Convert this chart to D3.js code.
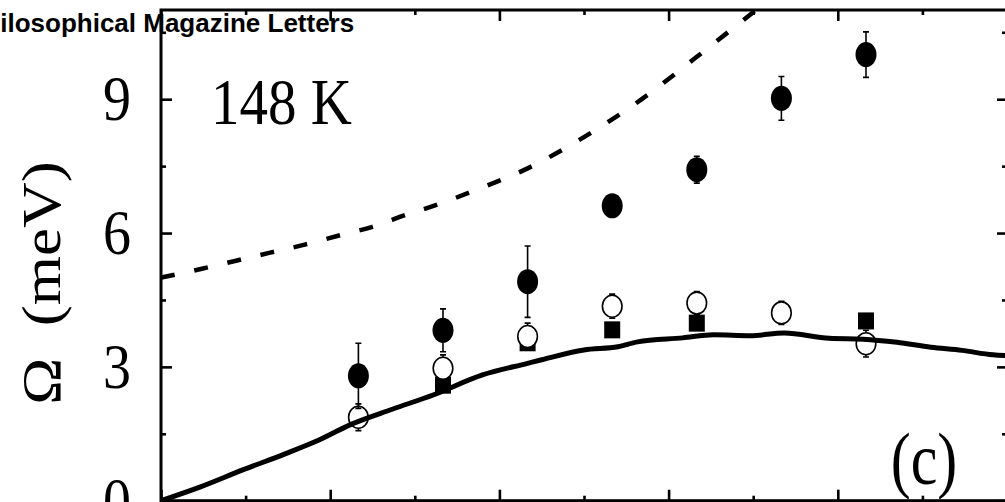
<!DOCTYPE html>
<html>
<head>
<meta charset="utf-8">
<script src="https://cdn.jsdelivr.net/npm/d3@7/dist/d3.min.js"></script>
<style>
  html, body { margin: 0; padding: 0; background: #fff; overflow: hidden; }
  svg { display: block; }
</style>
</head>
<body>
<svg id="chart" width="1005" height="502"></svg>
<script>
// ---- data ----
const xMeasured = [7, 10, 13, 16, 19, 22, 25];
const omegaUpper = [2.80, 3.82, 4.91, 6.61, 7.42, 9.02, 10.0];
const errUpper = [0.73, 0.48, 0.80, 0.15, 0.30, 0.49, 0.51];
const omegaLower = [1.87, 2.97, 3.68, 4.36, 4.43, 4.21, 3.52];
const errLower = [0.30, 0.30, 0.30, 0.27, 0.26, 0.26, 0.30];
const xSquare = [10, 13, 16, 19, 25];
const omegaSquare = [2.59, 3.54, 3.83, 3.98, 4.03];

// calculated curves
const solidX = [0, 1.4, 2.9, 4.4, 5.6, 6.7, 8.2, 9.65, 11.4, 13.0, 13.5, 15.0, 16.2, 16.9, 18.5, 19.6, 20.9, 22.1, 23.7, 24.9, 26.1, 27.3, 28.4, 29.5, 30];
const solidY = [0, 0.31, 0.69, 1.05, 1.36, 1.70, 2.05, 2.37, 2.82, 3.08, 3.16, 3.38, 3.45, 3.56, 3.65, 3.72, 3.70, 3.76, 3.64, 3.62, 3.55, 3.44, 3.37, 3.27, 3.25];
const dashX = [0, 1.45, 2.66, 3.87, 5.1, 6.28, 7.5, 8.7, 9.9, 11.1, 13, 15, 17, 19, 21, 22];
const dashY = [5.0, 5.2, 5.38, 5.56, 5.74, 5.94, 6.14, 6.41, 6.66, 6.95, 7.45, 8.15, 8.98, 9.95, 10.95, 11.45];

const xTicksMajor = [0, 6, 12, 18, 24, 30];
const xTicksMinor = [3, 9, 15, 21, 27];
const yTicksMajor = [0, 3, 6, 9];
const yTicksMinor = [1.5, 4.5, 7.5, 10.5];

// ---- layout ----
const svg = d3.select("#chart");
const plotL = 161, plotR = 1007, plotT = 10, plotB = 500.7;
const x = d3.scaleLinear().domain([0, 30]).range([plotL, plotR]);
const y = d3.scaleLinear().domain([0, 11]).range([plotB, plotT]);
const serif = "'Liberation Serif', 'Times New Roman', serif";
const stretch = 1.15; // glyphs in this figure are a little taller than wide

svg.append("rect").attr("width", 1005).attr("height", 502).attr("fill", "#fff");

svg.append("defs").append("clipPath").attr("id", "plot")
  .append("rect").attr("x", plotL).attr("y", plotT)
  .attr("width", plotR - plotL).attr("height", plotB - plotT);

// ---- axes (inward ticks on all four sides) ----
function addAxis(axisFn, scale, ticks, size, translate, labels) {
  const a = axisFn(scale).tickValues(ticks).tickSizeInner(-size).tickSizeOuter(0);
  if (labels) a.tickPadding(30).tickFormat(d3.format("d"));
  else a.tickFormat("");
  const g = svg.append("g").attr("transform", translate).call(a);
  g.select(".domain").remove();
  g.selectAll(".tick line").attr("stroke", "#000").attr("stroke-width", 2.6);
  return g;
}
addAxis(d3.axisBottom, x, xTicksMajor, 11, `translate(0,${plotB})`, false);
addAxis(d3.axisBottom, x, xTicksMinor, 5, `translate(0,${plotB})`, false);
addAxis(d3.axisTop, x, xTicksMajor, 11, `translate(0,${plotT})`, false);
addAxis(d3.axisTop, x, xTicksMinor, 5, `translate(0,${plotT})`, false);
const yl = addAxis(d3.axisLeft, y, yTicksMajor, 11, `translate(${plotL},0)`, true);
addAxis(d3.axisLeft, y, yTicksMinor, 5, `translate(${plotL},0)`, false);
addAxis(d3.axisRight, y, yTicksMajor, 10, `translate(${plotR},0)`, false);
addAxis(d3.axisRight, y, yTicksMinor, 5, `translate(${plotR},0)`, false);

yl.selectAll(".tick text")
  .attr("font-family", serif).attr("font-size", 56).attr("fill", "#000")
  .attr("transform", `scale(1,${stretch})`);

// frame
svg.append("rect")
  .attr("x", plotL).attr("y", plotT)
  .attr("width", plotR - plotL).attr("height", plotB - plotT)
  .attr("fill", "none").attr("stroke", "#000").attr("stroke-width", 3);

const plot = svg.append("g").attr("clip-path", "url(#plot)");

// squares
plot.selectAll("rect.sq").data(xSquare).join("rect")
  .attr("class", "sq")
  .attr("x", (d) => x(d) - 8)
  .attr("y", (d, i) => y(omegaSquare[i]) - 8.5)
  .attr("width", 16).attr("height", 17)
  .attr("fill", "#000");

// error bars
function errorBars(vals, errs, cls) {
  const g = plot.append("g").attr("class", cls)
    .attr("stroke", "#000").attr("stroke-width", 1.6).attr("fill", "none");
  xMeasured.forEach((xv, i) => {
    const cx = x(xv), y1 = y(vals[i] + errs[i]), y2 = y(vals[i] - errs[i]);
    g.append("line").attr("x1", cx).attr("x2", cx).attr("y1", y1).attr("y2", y2);
    g.append("line").attr("x1", cx - 3).attr("x2", cx + 3).attr("y1", y1).attr("y2", y1);
    g.append("line").attr("x1", cx - 3).attr("x2", cx + 3).attr("y1", y2).attr("y2", y2);
  });
}
errorBars(omegaLower, errLower, "err-lower");

// open circles
plot.selectAll("ellipse.open").data(xMeasured).join("ellipse")
  .attr("class", "open")
  .attr("cx", (d) => x(d))
  .attr("cy", (d, i) => y(omegaLower[i]))
  .attr("rx", 9.8).attr("ry", 11)
  .attr("fill", "#fff").attr("stroke", "#000").attr("stroke-width", 1.6);

// solid curve
const line = d3.line().x((d) => x(d[0])).y((d) => y(d[1])).curve(d3.curveMonotoneX);
plot.append("path")
  .datum(d3.zip(solidX, solidY))
  .attr("d", line)
  .attr("fill", "none").attr("stroke", "#000").attr("stroke-width", 5)
  .attr("stroke-linejoin", "round");

// dashed curve
plot.append("path")
  .datum(d3.zip(dashX, dashY))
  .attr("d", line)
  .attr("fill", "none").attr("stroke", "#000").attr("stroke-width", 4.5)
  .attr("stroke-dasharray", "14 20");

// filled circles
errorBars(omegaUpper, errUpper, "err-upper");
plot.selectAll("ellipse.filled").data(xMeasured).join("ellipse")
  .attr("class", "filled")
  .attr("cx", (d) => x(d))
  .attr("cy", (d, i) => y(omegaUpper[i]))
  .attr("rx", 10.5).attr("ry", 12.5)
  .attr("fill", "#000");

// ---- text ----
svg.append("text")
  .attr("transform", `translate(211,124) scale(1,${stretch})`)
  .attr("font-family", serif).attr("font-size", 57).attr("fill", "#000")
  .text("148 K");

svg.append("text")
  .attr("transform", `translate(924,484) scale(1,1.25)`)
  .attr("text-anchor", "middle")
  .attr("font-family", serif).attr("font-size", 60).attr("fill", "#000")
  .text("(c)");

svg.append("text")
  .attr("transform", `translate(60,283) rotate(-90) scale(${stretch},1)`)
  .attr("text-anchor", "middle")
  .attr("font-family", serif).attr("font-size", 55).attr("fill", "#000")
  .attr("xml:space", "preserve")
  .text("\u03A9  (meV)");

svg.append("text")
  .attr("x", -33).attr("y", 32)
  .attr("font-family", "'Liberation Sans', Arial, sans-serif")
  .attr("font-weight", "bold").attr("font-size", 26).attr("fill", "#000")
  .text("Philosophical Magazine Letters");
</script>
</body>
</html>
